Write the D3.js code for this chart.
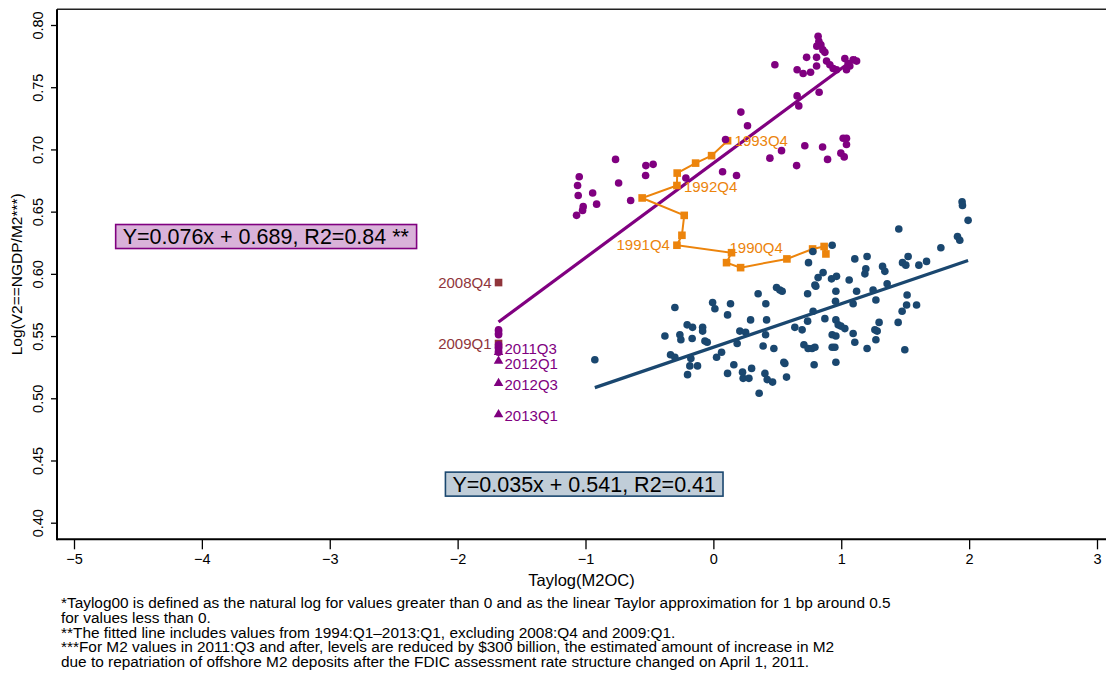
<!DOCTYPE html>
<html>
<head>
<meta charset="utf-8">
<script src="https://cdn.jsdelivr.net/npm/d3@7"></script>
<style>
  body { margin: 0; background: #fff; }
  svg { display: block; font-family: "Liberation Sans", Arial, Helvetica, sans-serif; }
</style>
</head>
<body>
<svg id="chart" width="1106" height="679"></svg>
<script>
// ---- Data: [Taylog(M2OC), Log(V2)] ----

// Earlier quarters (navy scatter)
const navyPoints = [
  [-0.927,0.531],[-0.301,0.573],[-0.379,0.550],[-0.262,0.551],[-0.254,0.547],[-0.205,0.559],
  [-0.163,0.557],[-0.084,0.557],[-0.084,0.554],[-0.166,0.548],[-0.066,0.546],[-0.048,0.545],
  [-0.335,0.535],[-0.301,0.533],[-0.176,0.532],[-0.184,0.526],[-0.124,0.526],[-0.202,0.519],
  [-0.006,0.577],[0.012,0.572],[0.134,0.576],[0.111,0.567],[0.064,0.537],[0.025,0.533],
  [0.160,0.527],[0.111,0.520],[0.186,0.544],[0.207,0.554],[0.252,0.553],[0.291,0.563],
  [0.228,0.521],[0.233,0.516],[0.278,0.516],[0.299,0.524],[0.358,0.504],[0.350,0.584],
  [0.410,0.576],[0.416,0.563],[0.408,0.551],[0.389,0.542],[0.473,0.540],[0.403,0.520],
  [0.421,0.515],[0.463,0.513],[0.572,0.517],[0.551,0.529],[0.559,0.528],[0.494,0.589],
  [0.520,0.587],[0.538,0.586],[0.637,0.557],[0.694,0.555],[0.708,0.543],[0.741,0.540],
  [0.772,0.540],[0.794,0.541],[0.788,0.527],[0.737,0.584],[0.780,0.570],[0.737,0.562],
  [0.794,0.591],[0.801,0.590],[0.819,0.597],[0.858,0.601],[0.744,0.609],[0.929,0.623],
  [0.872,0.564],[0.924,0.596],[0.963,0.598],[0.958,0.586],[0.955,0.578],[0.958,0.563],
  [0.976,0.559],[0.997,0.558],[1.028,0.556],[0.929,0.551],[0.958,0.550],[0.929,0.541],
  [0.950,0.541],[0.958,0.529],[1.062,0.595],[1.106,0.612],[1.120,0.586],[1.093,0.576],
  [1.093,0.552],[1.106,0.545],[1.202,0.614],[1.192,0.604],[1.185,0.600],[1.202,0.540],
  [1.249,0.587],[1.271,0.579],[1.296,0.561],[1.263,0.555],[1.281,0.554],[1.271,0.547],
  [1.323,0.606],[1.341,0.602],[1.359,0.592],[1.445,0.561],[1.476,0.570],[1.511,0.575],
  [1.515,0.583],[1.589,0.575],[1.497,0.539],[1.479,0.609],[1.505,0.607],[1.523,0.614],
  [1.607,0.607],[1.667,0.610],[1.779,0.621],[1.909,0.630],[1.927,0.627],[1.945,0.658],
  [1.948,0.655],[1.992,0.643],[1.450,0.636],[0.778,0.618]
];

// 1994Q1-2008Q3 (purple scatter)
const purplePoints = [
  [0.819,0.791],[0.841,0.784],[0.856,0.780],[0.872,0.778],[0.809,0.783],[0.825,0.787],
  [0.729,0.774],[0.807,0.774],[0.481,0.768],[0.655,0.764],[0.702,0.761],[0.760,0.762],
  [0.807,0.767],[0.885,0.771],[0.911,0.768],[0.937,0.765],[0.963,0.764],[1.028,0.773],
  [1.054,0.769],[1.093,0.772],[1.120,0.771],[1.041,0.764],[1.067,0.767],[0.655,0.743],
  [0.668,0.735],[0.827,0.746],[0.215,0.730],[0.267,0.719],[0.095,0.708],[0.715,0.703],
  [0.854,0.702],[1.015,0.709],[1.041,0.709],[1.041,0.704],[0.997,0.697],[1.023,0.694],
  [0.533,0.699],[0.442,0.693],[0.651,0.687],[0.893,0.692],[0.072,0.682],[0.181,0.679],
  [-0.215,0.677],[-0.765,0.692],[-0.528,0.687],[-0.471,0.688],[-0.530,0.679],[-0.741,0.673],
  [-0.647,0.659],[-1.049,0.678],[-1.062,0.671],[-1.057,0.663],[-0.944,0.665],[-0.913,0.656],
  [-1.018,0.654],[-1.023,0.651],[-1.070,0.647]
];

// 2009Q2-2011Q2, all at the floor of Taylog (purple)
const purpleFloor = [
  [-1.68,0.555],[-1.68,0.554],[-1.68,0.552],[-1.68,0.551],[-1.68,0.543],
  [-1.68,0.541],[-1.68,0.540],[-1.68,0.538],[-1.68,0.537]
];

// Quarters left out of the fit
const excludedQuarters = ["2008Q4", "2009Q1"];
const excludedX = [-1.68, -1.68];
const excludedY = [0.593, 0.544];

// Quarters with the M2 repatriation adjustment
const adjustedQuarters = ["2011Q3", "2012Q1", "2012Q3", "2013Q1"];
const adjustedX = [-1.68, -1.68, -1.68, -1.68];
const adjustedY = [0.537, 0.530, 0.512, 0.487];

// 1990Q1-1993Q4 connected path
const pathQuarters = [
  "1990Q1","1990Q2","1990Q3","1990Q4","1991Q1","1991Q2","1991Q3","1991Q4",
  "1992Q1","1992Q2","1992Q3","1992Q4","1993Q1","1993Q2","1993Q3","1993Q4"
];
const pathX = [0.880,0.866,0.776,0.575,0.213,0.103,0.142,-0.285,
               -0.246,-0.228,-0.557,-0.285,-0.283,-0.139,-0.014,0.111];
const pathY = [0.616,0.622,0.620,0.612,0.605,0.609,0.617,0.623,
               0.631,0.647,0.661,0.671,0.681,0.689,0.695,0.707];
const pathLabelled = ["1990Q4","1991Q4","1992Q4","1993Q4"];

// Fitted lines
const fitPurple = { slope: 0.076, intercept: 0.689, r2: 0.84 };
const fitNavy   = { slope: 0.035, intercept: 0.541, r2: 0.41 };

// Axis ticks
const xTicks = [-5, -4, -3, -2, -1, 0, 1, 2, 3];
const yTicks = [0.40, 0.45, 0.50, 0.55, 0.60, 0.65, 0.70, 0.75, 0.80];

// ---- Styles ----
const C = {
  purple: "#800080",
  navy: "#1a476f",
  orange: "#ec840c",
  cranberry: "#90353b",
  purpleFill: "#d9b2d9",
  navyFill: "#c0cdd8"
};

const svg = d3.select("#chart");

// plot region
const plot = { left: 57, right: 1112, top: 9.3, bottom: 539.3 };

const x = d3.scaleLinear().domain([-5, 3]).range([74, 1097]);
const y = d3.scaleLinear().domain([0.40, 0.80]).range([522.7, 25]);

// frame
svg.append("line").attr("x1", plot.left).attr("x2", plot.right)
  .attr("y1", plot.top).attr("y2", plot.top)
  .attr("stroke", "#222").attr("stroke-width", 1.6);

// x axis
const xAxis = d3.axisBottom(x).tickValues(xTicks).tickSize(10).tickPadding(4)
  .tickFormat(d3.format("d"));
const gx = svg.append("g").attr("transform", `translate(0,${plot.bottom})`).call(xAxis);
gx.select(".domain").remove();
gx.append("line").attr("x1", plot.left).attr("x2", plot.right)
  .attr("stroke", "#000").attr("stroke-width", 2);
gx.selectAll(".tick line").attr("stroke", "#000").attr("stroke-width", 1.3);
gx.selectAll(".tick text").attr("font-size", 14.5).attr("fill", "#000")
  .attr("font-family", "Liberation Sans, Arial, sans-serif");

// y axis
const yAxis = d3.axisLeft(y).tickValues(yTicks).tickSize(6).tickPadding(0)
  .tickFormat(d3.format(".2f"));
const gy = svg.append("g").attr("transform", `translate(${plot.left},0)`).call(yAxis);
gy.select(".domain").remove();
gy.append("line").attr("y1", plot.top).attr("y2", plot.bottom + 1)
  .attr("stroke", "#000").attr("stroke-width", 2);
gy.selectAll(".tick line").attr("stroke", "#000").attr("stroke-width", 1.3);
gy.selectAll(".tick text")
  .attr("font-size", 14.5).attr("fill", "#000")
  .attr("font-family", "Liberation Sans, Arial, sans-serif")
  .attr("x", null).attr("dy", null)
  .attr("text-anchor", "middle")
  .attr("transform", "translate(-14,0) rotate(-90)")
  .attr("y", 0);

// axis titles
svg.append("text").attr("x", (plot.left + 1106) / 2).attr("y", 586)
  .attr("text-anchor", "middle").attr("font-size", 16.5).text("Taylog(M2OC)");
svg.append("text")
  .attr("transform", `translate(22,${(plot.top + plot.bottom) / 2}) rotate(-90)`)
  .attr("text-anchor", "middle").attr("font-size", 15.5).text("Log(V2==NGDP/M2***)");

// fitted lines over each series' x range
function fitLine(pts, fit, color) {
  const ext = d3.extent(pts, d => d[0]);
  svg.append("line")
    .attr("x1", x(ext[0])).attr("y1", y(fit.intercept + fit.slope * ext[0]))
    .attr("x2", x(ext[1])).attr("y2", y(fit.intercept + fit.slope * ext[1]))
    .attr("stroke", color).attr("stroke-width", 3.2);
}
const purpleAll = purplePoints.concat(purpleFloor, adjustedX.map((v, i) => [v, adjustedY[i]]));
fitLine(purpleAll, fitPurple, C.purple);
fitLine(navyPoints, fitNavy, C.navy);

// early connected path
const pathPts = pathX.map((v, i) => ({ q: pathQuarters[i], x: v, y: pathY[i] }));
svg.append("path")
  .attr("d", d3.line().x(d => x(d.x)).y(d => y(d.y))(pathPts))
  .attr("fill", "none").attr("stroke", C.orange).attr("stroke-width", 2);
svg.append("g").selectAll("rect").data(pathPts).join("rect")
  .attr("x", d => x(d.x) - 3.8).attr("y", d => y(d.y) - 3.8)
  .attr("width", 7.6).attr("height", 7.6).attr("fill", C.orange);

// scatter
const R = 3.8;
svg.append("g").selectAll("circle").data(navyPoints).join("circle")
  .attr("cx", d => x(d[0])).attr("cy", d => y(d[1])).attr("r", R).attr("fill", C.navy);

// excluded quarters (cranberry squares)
const excl = excludedX.map((v, i) => ({ q: excludedQuarters[i], x: v, y: excludedY[i] }));
svg.append("g").selectAll("rect").data(excl).join("rect")
  .attr("x", d => x(d.x) - 3.8).attr("y", d => y(d.y) - 3.8)
  .attr("width", 7.6).attr("height", 7.6).attr("fill", C.cranberry);

svg.append("g").selectAll("circle").data(purplePoints.concat(purpleFloor)).join("circle")
  .attr("cx", d => x(d[0])).attr("cy", d => y(d[1])).attr("r", R).attr("fill", C.purple);

const adj = adjustedX.map((v, i) => ({ q: adjustedQuarters[i], x: v, y: adjustedY[i] }));
svg.append("g").selectAll("path").data(adj).join("path")
  .attr("d", d3.symbol(d3.symbolTriangle, 40)())
  .attr("transform", d => `translate(${x(d.x)},${y(d.y)})`)
  .attr("fill", C.purple);

// marker labels
const LFS = 15;
function label(px, py, txt, color, anchor, dx, dy) {
  svg.append("text").attr("x", px + dx).attr("y", py + dy + LFS * 0.35)
    .attr("text-anchor", anchor).attr("font-size", LFS).attr("fill", color).text(txt);
}
const pathLabelPos = {
  "1990Q4": ["end", -4, -11],
  "1991Q4": ["end", -7, 0],
  "1992Q4": ["start", 7, 1.5],
  "1993Q4": ["start", 7, 0]
};
pathPts.filter(d => pathLabelled.includes(d.q)).forEach(d => {
  const p = pathLabelPos[d.q];
  label(x(d.x), y(d.y), d.q, C.orange, p[0], p[1], p[2]);
});
excl.forEach(d => label(x(d.x), y(d.y), d.q, C.cranberry, "end", -7, 0));
const adjLabelDy = { "2011Q3": -3, "2012Q1": 2.5, "2012Q3": 1, "2013Q1": 1 };
adj.forEach(d => label(x(d.x), y(d.y), d.q, C.purple, "start", 6, adjLabelDy[d.q]));

// equation boxes
function eqBox(cx, cy, txt, stroke, fill) {
  const g = svg.append("g");
  const rect = g.append("rect");
  const t = g.append("text").attr("x", x(cx)).attr("y", y(cy) + 21.5 * 0.36)
    .attr("text-anchor", "middle").attr("font-size", 21.5).attr("fill", "#000").text(txt);
  const b = t.node().getBBox();
  rect.attr("x", b.x - 7).attr("y", y(cy) - 12).attr("width", b.width + 14).attr("height", 24)
    .attr("fill", fill).attr("stroke", stroke).attr("stroke-width", 1.6);
}
const fmt3 = d3.format(".3f"), fmt2 = d3.format(".2f");
eqBox(-3.5, 0.630,
  `Y=${fmt3(fitPurple.slope)}x + ${fmt3(fitPurple.intercept)}, R2=${fmt2(fitPurple.r2)} **`,
  C.purple, C.purpleFill);
eqBox(-1.01, 0.431,
  `Y=${fmt3(fitNavy.slope)}x + ${fmt3(fitNavy.intercept)}, R2=${fmt2(fitNavy.r2)}`,
  C.navy, C.navyFill);

// footnotes
const notes = [
  "*Taylog00 is defined as the natural log for values greater than 0 and as the linear Taylor approximation for 1 bp around 0.5",
  "for values less than 0.",
  "**The fitted line includes values from 1994:Q1\u20132013:Q1, excluding 2008:Q4 and 2009:Q1.",
  "***For M2 values in 2011:Q3 and after, levels are reduced by $300 billion, the estimated amount of increase in M2",
  "due to repatriation of offshore M2 deposits after the FDIC assessment rate structure changed on April 1, 2011."
];
svg.append("g").selectAll("text").data(notes).join("text")
  .attr("x", 61).attr("y", (d, i) => 608 + i * 14.8)
  .attr("font-size", 15.4).attr("fill", "#000").text(d => d);
</script>
</body>
</html>
